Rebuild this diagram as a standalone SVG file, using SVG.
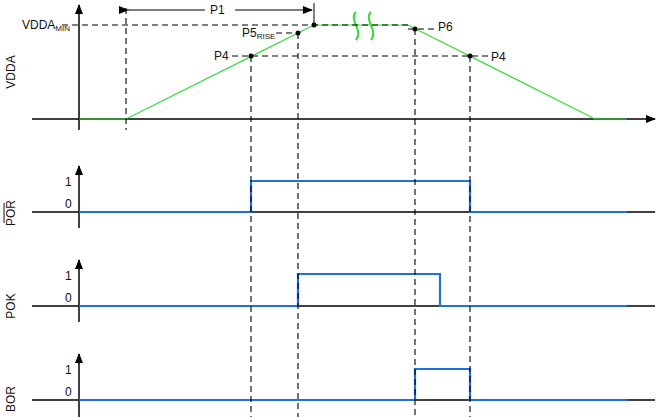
<svg xmlns="http://www.w3.org/2000/svg" width="658" height="417" viewBox="0 0 658 417">
<defs><marker id="a" markerWidth="10" markerHeight="8" refX="9" refY="4" orient="auto" markerUnits="userSpaceOnUse"><path d="M0,0L10,4L0,8z" fill="#000"/></marker></defs>
<style>text{font-family:"Liberation Sans",Arial,sans-serif;font-size:12px;fill:#111}.ax{stroke:#000;stroke-width:1.5;fill:none}.d{stroke:#000;stroke-dasharray:6,4;fill:none;stroke-width:1.1}.g{stroke:#33dd33;fill:none;stroke-width:1.2}.b{stroke:#1f6fdc;stroke-width:2.2;fill:none}</style>
<rect width="658" height="417" fill="#fff"/>
<g id="vdda">
<line class="ax" x1="79" y1="130" x2="79" y2="5" marker-end="url(#a)"/>
<line class="ax" x1="32" y1="119" x2="655" y2="119" marker-end="url(#a)"/>
<path class="g" d="M79,119H126L314,25H408L595,119H627"/>
<path d="M356,12c-8,8 8,18 0,28M371,12c-8,8 8,18 0,28" stroke="#33dd33" stroke-width="2" fill="none"/>
<line x1="128" y1="10" x2="312" y2="10" stroke="#000" marker-start="url(#a)" marker-end="url(#a)"/>
<rect x="205" y="3" width="30" height="14" fill="#fff"/>
<text x="210" y="14">P1</text>
<text x="22" y="29">VDDA<tspan font-size="8" dy="2">MIN</tspan></text>
<text x="242" y="37">P5<tspan font-size="8" dy="2">RISE</tspan></text>
<text x="214" y="60">P4</text><text x="438" y="31">P6</text><text x="491" y="61">P4</text>
<text transform="translate(15,72) rotate(-90)" text-anchor="middle">VDDA</text>
</g>
<g id="por">
<line class="ax" x1="79" y1="228" x2="79" y2="166" marker-end="url(#a)"/>
<line class="ax" x1="32" y1="212" x2="655" y2="212"/>
<path class="b" d="M79,212H251V181H470V212H627"/>
<text x="65" y="186">1</text><text x="65" y="208">0</text>
<text transform="translate(15,213) rotate(-90)" text-anchor="middle">POR</text>
<line x1="4" y1="203" x2="4" y2="223" stroke="#111"/>
</g>
<g id="pok">
<line class="ax" x1="79" y1="322" x2="79" y2="260" marker-end="url(#a)"/>
<line class="ax" x1="32" y1="306" x2="655" y2="306"/>
<path class="b" d="M79,306H298V274H440V306H627"/>
<text x="65" y="280">1</text><text x="65" y="302">0</text>
<text transform="translate(15,306) rotate(-90)" text-anchor="middle">POK</text>
</g>
<g id="bor">
<line class="ax" x1="79" y1="417" x2="79" y2="354" marker-end="url(#a)"/>
<line class="ax" x1="32" y1="400" x2="655" y2="400"/>
<path class="b" d="M79,400H415V369H470V400H627"/>
<text x="65" y="374">1</text><text x="65" y="396">0</text>
<text transform="translate(15,399) rotate(-90)" text-anchor="middle">BOR</text>
</g>
<g id="connectors">
<path class="d" d="M126,8V130M62,25H410M232,56H490M276,33H298M408,29H436M251,56V417M298,33V417M415,29V417M470,56V417"/>
<line x1="314" y1="3" x2="314" y2="25" stroke="#000"/>
<g fill="#000"><circle cx="314" cy="25" r="2.5"/><circle cx="298" cy="33" r="2.5"/><circle cx="251" cy="56" r="2.5"/><circle cx="415" cy="29" r="2.5"/><circle cx="470" cy="56" r="2.5"/></g>
</g>
</svg>
